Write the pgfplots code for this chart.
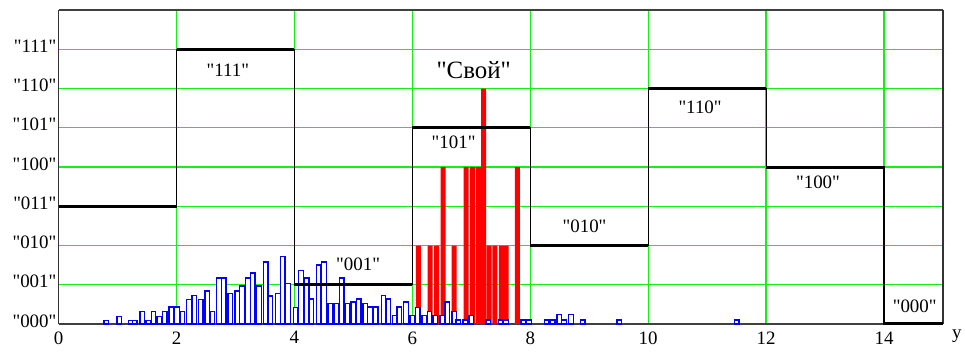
\documentclass[border=0pt]{standalone}
\usepackage{fontspec}
\setmainfont{Liberation Serif}[Ligatures=TeXOff]
\usepackage{pgfplots}
\pgfplotsset{compat=1.18}
\definecolor{gridgreen}{RGB}{20,240,20}
\definecolor{barblue}{RGB}{0,0,255}
\definecolor{barred}{RGB}{255,0,0}
\begin{document}
\begin{tikzpicture}
\begin{axis}[name=ax, scale only axis, width=884.4bp, height=314bp,
  xmin=0, xmax=15, ymin=0, ymax=8,
  xtick={0,2,...,14}, ytick={0,...,7},
  yticklabels={"000","001","010","011","100","101","110","111"},
  grid=major, major grid style={draw=gridgreen, line width=1.3bp},
  major tick length=0pt,
  separate axis lines,
  x axis line style={draw=black!75, line width=2bp},
  y axis line style={draw=black!80, line width=1.5bp},
  tick label style={font=\fontsize{19}{22}\selectfont},
  /pgf/number format/assume math mode=true,
  yticklabel style={inner xsep=2bp, yshift=3bp},
  xticklabel style={yshift=-4bp},
  xlabel={y},
  xlabel style={at={(rel axis cs:1,0)}, anchor=base west, xshift=9bp, yshift=-14bp, inner sep=0pt, font=\fontsize{19}{22}\selectfont},
  axis on top=false,
]
% red bars
\addplot[ybar, bar shift=0pt, bar width=0.085, fill=barred, draw=none] coordinates {
(6.10,2) (6.30,2) (6.41,2) (6.52,4) (6.71,2) (6.91,4) (7.02,4) (7.12,4)
(7.21,6) (7.30,2) (7.40,2) (7.51,2) (7.59,2) (7.78,4)};
% blue histogram
\addplot[ybar, bar shift=0pt, bar width=0.078, fill=white, draw=barblue, line width=1.3bp] coordinates {
(0.81,0.09) (1.03,0.2) (1.22,0.09) (1.29,0.09) (1.42,0.31) (1.52,0.09) (1.61,0.31)
(1.71,0.2) (1.80,0.31) (1.91,0.43) (2.01,0.43) (2.10,0.31) (2.21,0.63) (2.30,0.72)
(2.41,0.63) (2.52,0.84) (2.61,0.31) (2.72,1.17) (2.80,1.17) (2.91,0.77) (3.03,0.84)
(3.11,0.97) (3.21,1.17) (3.29,1.3) (3.40,0.97) (3.51,1.58) (3.59,0.71) (3.72,0.77)
(3.80,1.72) (3.89,1.04) (4.02,0.42) (4.11,1.37) (4.21,1.17) (4.29,0.64) (4.41,1.5)
(4.50,1.58) (4.61,0.52) (4.71,0.52) (4.80,1.17) (4.90,0.52) (5.00,0.56) (5.09,0.64)
(5.20,0.52) (5.28,0.43) (5.38,0.43) (5.51,0.72) (5.59,0.64) (5.70,0.22) (5.78,0.43)
(5.89,0.56) (6.00,0.22) (6.09,0.42) (6.20,0.22) (6.29,0.31) (6.39,0.22) (6.51,0.22)
(6.59,0.56) (6.71,0.31) (6.78,0.1) (6.90,0.1) (7.00,0.22) (7.29,0.1) (7.50,0.1)
(7.59,0.1) (7.88,0.1) (7.98,0.1) (8.28,0.1) (8.38,0.1) (8.49,0.24) (8.57,0.1)
(8.69,0.24) (8.89,0.1) (9.51,0.1) (11.50,0.1)};
% step function (verticals thin)
\addplot[black, line width=1.2bp, const plot] coordinates {
(0,3) (2,7) (4,1) (6,5) (8,2) (10,6) (12,4) (14,0) (15,0)};
% thick horizontal segments
\addplot[black, line width=3bp] coordinates {(0,3) (2,3)};
\addplot[black, line width=3bp] coordinates {(2,7) (4,7)};
\addplot[black, line width=3bp] coordinates {(4,1) (6,1)};
\addplot[black, line width=3bp] coordinates {(6,5) (8,5)};
\addplot[black, line width=3bp] coordinates {(8,2) (10,2)};
\addplot[black, line width=3bp] coordinates {(10,6) (12,6)};
\addplot[black, line width=3bp] coordinates {(12,4) (14,4)};
\addplot[black, line width=3bp] coordinates {(14,0) (15,0)};
% labels
\begin{scope}[every node/.style={font=\fontsize{19}{22}\selectfont, inner sep=0pt}]
\node at (axis cs:2.87,6.46) {"111"};
\node at (axis cs:6.70,4.64) {"101"};
\node at (axis cs:5.08,1.53) {"001"};
\node at (axis cs:8.92,2.49) {"010"};
\node at (axis cs:10.88,5.53) {"110"};
\node at (axis cs:12.88,3.60) {"100"};
\node at (axis cs:14.52,0.46) {"000"};
\end{scope}
\node[font=\fontsize{25}{28}\selectfont, inner sep=0pt] at (axis cs:7.04,6.46) {"Свой"};
\end{axis}
\pgfresetboundingbox
\path[use as bounding box] ([xshift=-58.6bp,yshift=-30bp]ax.south west) rectangle ([xshift=22bp,yshift=10bp]ax.north east);
\end{tikzpicture}
\end{document}
